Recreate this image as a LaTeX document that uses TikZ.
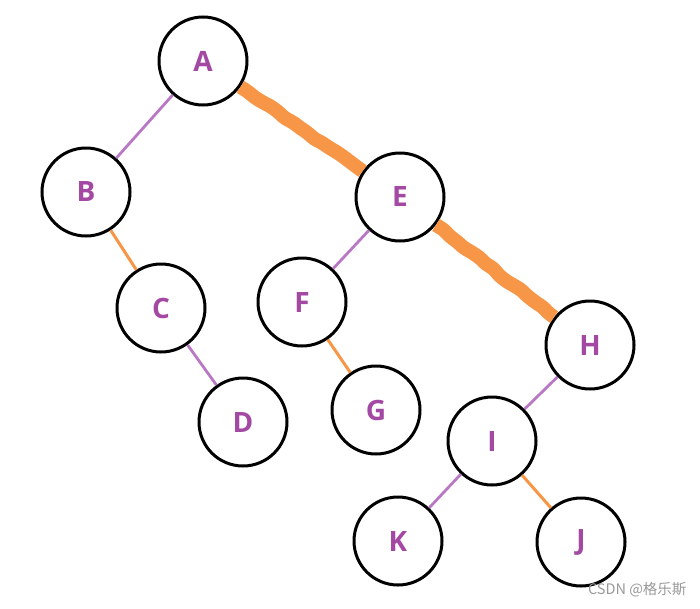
\documentclass[tikz,border=0pt]{standalone}
\usepackage{fontspec}
\setmainfont{Open Sans}
\newfontfamily\cjk{Noto Sans CJK SC}
\usetikzlibrary{decorations.pathmorphing}
\definecolor{lblpurple}{HTML}{A349A4}
\definecolor{edgepurple}{HTML}{B878C4}
\definecolor{edgeorange}{HTML}{F79646}
\newlength{\vtxsize}
\setlength{\vtxsize}{88pt}

\begin{document}
\begin{tikzpicture}[x=1pt,y=-1pt,
    vtx/.style={draw=black,circle,line width=3pt,minimum size=\vtxsize,inner sep=0pt,
                text=lblpurple,font=\fontsize{28}{30}\selectfont\bfseries},
    pline/.style={edgepurple,line width=2.8pt},
    oline/.style={edgeorange,line width=3pt},
    hot/.style={edgeorange,line width=14pt,decorate,
                decoration={random steps,segment length=9pt,amplitude=1.2pt},rounded corners=3pt}]
            \useasboundingbox (0,0) rectangle (700,608);
            \pgfmathsetseed{7}
            \node[vtx] (A) at (203,61){A};
            \node[vtx] (B) at (86,192){B};
            \node[vtx] (E) at (400,197){E};
            \node[vtx] (C) at (161,308){C};
            \node[vtx] (F) at (302,302){F};
            \node[vtx] (D) at (243,422){D};
            \node[vtx] (G) at (376,410){G};
            \node[vtx] (H) at (590,345){H};
            \node[vtx] (I) at (492,441){I};
            \node[vtx] (K) at (398,541){K};
            \node[vtx] (J) at (581,542){J};
            \draw[pline](A)--(B);
            \draw[oline](B)--(C);
            \draw[pline](C)--(D);
            \draw[pline](E)--(F);
            \draw[oline](F)--(G);
            \draw[pline](H)--(I);
            \draw[pline](I)--(K);
            \draw[oline](I)--(J);
            \draw[hot](A)--(E);
            \draw[hot](E)--(H);
            \node[text=black!40,font=\cjk\fontsize{14.5}{16}\selectfont,anchor=east] (mark) at (690,590) {CSDN @格乐斯};
             \end{tikzpicture}
\end{document}
